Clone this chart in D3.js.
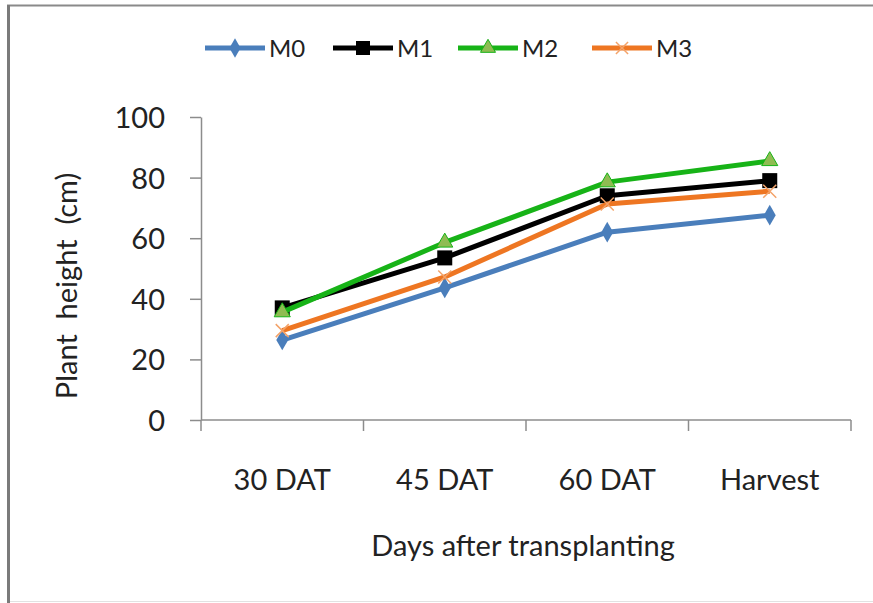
<!DOCTYPE html>
<html>
<head>
<meta charset="utf-8">
<script src="https://cdn.jsdelivr.net/npm/d3@7/dist/d3.min.js"></script>
<style>
  body { margin: 0; background: #fff; }
  svg { display: block; font-family: Lato, "Open Sans", sans-serif; }
</style>
</head>
<body>
<div id="chart"></div>
<script>
// data
const categories = ["30 DAT", "45 DAT", "60 DAT", "Harvest"];
const seriesNames = ["M0", "M1", "M2", "M3"];
const m0 = [26.4, 43.6, 62.0, 67.6];
const m1 = [37.0, 53.5, 74.0, 79.0];
const m2 = [35.6, 58.6, 78.5, 85.5];
const m3 = [29.5, 47.2, 71.3, 75.5];
const yTicks = [0, 20, 40, 60, 80, 100];

const seriesValues = [m0, m1, m2, m3];
const lineColors = ["#4a7ebb", "#000000", "#17b317", "#ee7622"];
const markerFill = ["#4a7ebb", "#000000", "#8fbc52", "#f3a36a"];
const markerType = ["diamond", "square", "triangle", "cross"];

const W = 873, H = 603;
const plot = { left: 201, right: 851, top: 117, bottom: 420 };

const svg = d3.select("#chart").append("svg")
  .attr("width", W)
  .attr("height", H);

// frame of the screenshot
svg.append("rect").attr("width", W).attr("height", H).attr("fill", "#fff");
svg.append("line").attr("x1", 7).attr("x2", W).attr("y1", 5.5).attr("y2", 5.5)
  .attr("stroke", "#8a8a8a").attr("stroke-width", 2);
svg.append("line").attr("x1", 8.5).attr("x2", 8.5).attr("y1", 5).attr("y2", H)
  .attr("stroke", "#7a7a7a").attr("stroke-width", 3);
svg.append("line").attr("x1", 10).attr("x2", W).attr("y1", 601.5).attr("y2", 601.5)
  .attr("stroke", "#e2e2e2").attr("stroke-width", 1);

const x = d3.scaleBand()
  .domain(categories)
  .range([plot.left, plot.right]);

const y = d3.scaleLinear()
  .domain([0, 100])
  .range([plot.bottom, plot.top]);

// Y axis
const yAxis = svg.append("g")
  .attr("transform", "translate(" + plot.left + ",0)")
  .call(d3.axisLeft(y).tickValues(yTicks).tickSize(11).tickPadding(25).tickSizeOuter(0));
yAxis.select(".domain").attr("stroke", "#8c8c8c").attr("stroke-width", 1.5);
yAxis.selectAll(".tick line").attr("stroke", "#8c8c8c").attr("stroke-width", 1.5);
yAxis.selectAll(".tick text")
  .attr("fill", "#222")
  .style("font-size", "29px")
  .style("font-family", "Lato, sans-serif")
  .attr("dy", "0.36em");

// X axis, ticks sit between the categories
const xAxis = svg.append("g")
  .attr("transform", "translate(0," + plot.bottom + ")");
xAxis.append("line")
  .attr("x1", plot.left).attr("x2", plot.right)
  .attr("stroke", "#8c8c8c").attr("stroke-width", 1.5);
const bounds = categories.map(c => x(c)).concat([plot.right]);
xAxis.selectAll("line.sep")
  .data(bounds)
  .join("line")
  .attr("class", "sep")
  .attr("x1", d => d).attr("x2", d => d)
  .attr("y1", 0).attr("y2", 11)
  .attr("stroke", "#8c8c8c").attr("stroke-width", 1.5);
xAxis.selectAll("text")
  .data(categories)
  .join("text")
  .attr("x", d => x(d) + x.bandwidth() / 2)
  .attr("y", 70)
  .attr("text-anchor", "middle")
  .attr("fill", "#222")
  .style("font-size", "29px")
  .text(d => d);

// axis titles
svg.append("text")
  .attr("x", 523)
  .attr("y", 556)
  .attr("text-anchor", "middle")
  .attr("fill", "#222")
  .style("font-size", "29px")
  .text("Days after transplanting");

svg.append("text")
  .attr("transform", "translate(77,286) rotate(-90)")
  .attr("text-anchor", "middle")
  .attr("fill", "#222")
  .style("font-size", "29px")
  .style("white-space", "pre")
  .text("Plant  height  (cm)");

function drawMarker(g, type, i, cx, cy, s) {
  if (type === "diamond") {
    g.append("path")
      .attr("d", d3.symbol(d3.symbolDiamond, s * s * 0.55)())
      .attr("transform", "translate(" + cx + "," + cy + ") scale(1,1)")
      .attr("fill", markerFill[i]);
  } else if (type === "square") {
    g.append("rect")
      .attr("x", cx - s / 2).attr("y", cy - s / 2)
      .attr("width", s).attr("height", s)
      .attr("fill", markerFill[i]);
  } else if (type === "triangle") {
    g.append("path")
      .attr("d", d3.symbol(d3.symbolTriangle, s * s * 0.5)())
      .attr("transform", "translate(" + cx + "," + cy + ")")
      .attr("fill", markerFill[i])
      .attr("stroke", "#17b317").attr("stroke-width", 1);
  } else {
    g.append("path")
      .attr("d", d3.symbol(d3.symbolX, s * s * 0.5)())
      .attr("transform", "translate(" + cx + "," + cy + ")")
      .attr("fill", "none")
      .attr("stroke", markerFill[i]).attr("stroke-width", 1.5);
  }
}

const line = d3.line()
  .x((d, j) => x(categories[j]) + x.bandwidth() / 2)
  .y(d => y(d));

// lines then markers, series in legend order
seriesValues.forEach((vals, i) => {
  const g = svg.append("g");
  g.append("path")
    .datum(vals)
    .attr("d", line)
    .attr("fill", "none")
    .attr("stroke", lineColors[i])
    .attr("stroke-width", 5)
    .attr("stroke-linejoin", "round");
  vals.forEach((v, j) => {
    drawMarker(g, markerType[i], i, x(categories[j]) + x.bandwidth() / 2, y(v), 15);
  });
});

// legend
const legendX = [205, 333, 458, 592];
const legend = svg.append("g");
seriesNames.forEach((name, i) => {
  const lg = legend.append("g");
  lg.append("line")
    .attr("x1", legendX[i]).attr("x2", legendX[i] + 60)
    .attr("y1", 48).attr("y2", 48)
    .attr("stroke", lineColors[i]).attr("stroke-width", 5);
  drawMarker(lg, markerType[i], i, legendX[i] + 30, 48, 14);
  lg.append("text")
    .attr("x", legendX[i] + 64)
    .attr("y", 48)
    .attr("dy", "0.36em")
    .attr("fill", "#222")
    .style("font-size", "24px")
    .text(name);
});
</script>
</body>
</html>
